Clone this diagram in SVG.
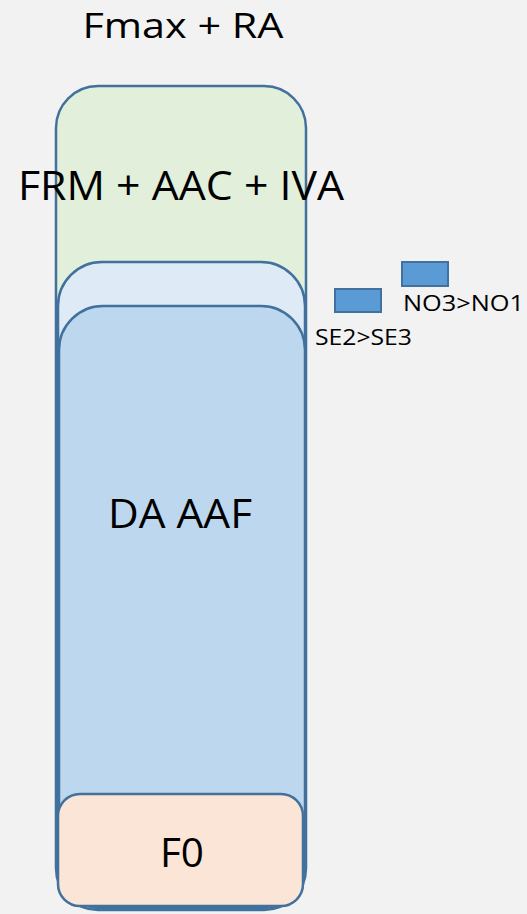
<svg xmlns="http://www.w3.org/2000/svg" width="527" height="914" viewBox="0 0 527 914">
<style>
.box{stroke:#41719C;stroke-width:2.5}
.t{font-family:"Open Sans","Liberation Sans",sans-serif;fill:#000}
.big{font-size:40px}
.small{font-size:22px}
</style>
<rect width="527" height="914" fill="#F2F2F2"/>
<g id="node-frm">
<rect class="box" x="56" y="86" width="250" height="824" rx="42" fill="#E2EFDA"/>
</g>
<g id="node-light">
<rect class="box" x="58" y="262" width="247" height="646" rx="44" fill="#DEEAF6"/>
</g>
<g id="node-da">
<rect class="box" x="59" y="306" width="246" height="602" rx="44" fill="#BDD7EE"/>
</g>
<g id="node-f0">
<rect class="box" x="58" y="794" width="245" height="112" rx="22" fill="#FBE5D6"/>
<text class="t big" x="182" y="867" text-anchor="middle" textLength="44" lengthAdjust="spacingAndGlyphs">F0</text>
</g>
<g id="label-fmax">
<text class="t" style="font-size:35px" x="183" y="38" text-anchor="middle" textLength="201" lengthAdjust="spacingAndGlyphs">Fmax + RA</text>
</g>
<g id="label-frm">
<text class="t big" x="181" y="200" text-anchor="middle" textLength="326" lengthAdjust="spacingAndGlyphs">FRM + AAC + IVA</text>
</g>
<g id="label-da">
<text class="t big" x="180" y="528" text-anchor="middle" textLength="144" lengthAdjust="spacingAndGlyphs">DA AAF</text>
</g>
<g id="node-no">
<rect x="402" y="262" width="46" height="24" fill="#5B9BD5" stroke="#41719C" stroke-width="2"/>
<text class="t small" x="403" y="311" textLength="121" lengthAdjust="spacingAndGlyphs">NO3&gt;NO1</text>
</g>
<g id="node-se">
<rect x="335" y="289" width="46" height="23" fill="#5B9BD5" stroke="#41719C" stroke-width="2"/>
<text class="t small" x="315" y="345" textLength="97" lengthAdjust="spacingAndGlyphs">SE2&gt;SE3</text>
</g>
<g id="connectors"></g>
</svg>
